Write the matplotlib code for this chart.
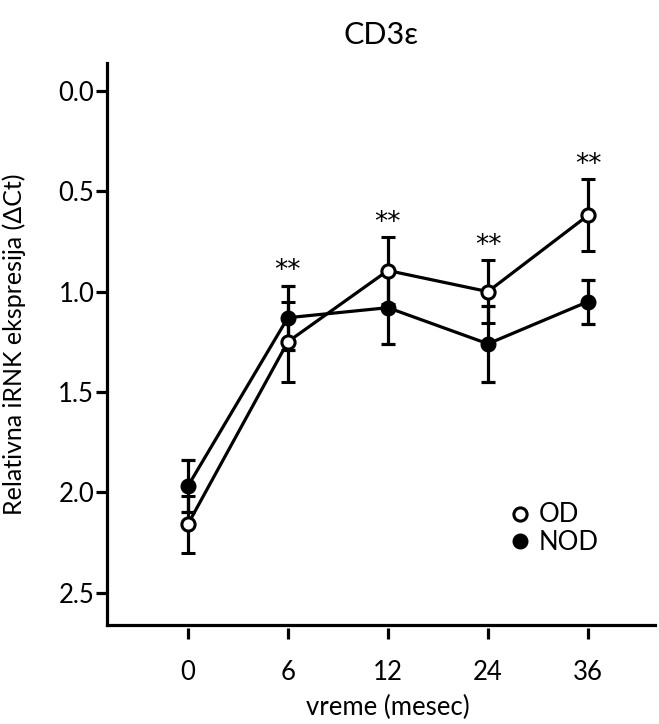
import matplotlib
matplotlib.use("Agg")
import matplotlib.pyplot as plt
from matplotlib.lines import Line2D
import numpy as np

plt.rcParams['font.family'] = ['Lato', 'DejaVu Sans']

categories = ["0", "6", "12", "24", "36"]
od_mean = [2.16, 1.25, 0.895, 1.00, 0.62]
od_err = [0.14, 0.20, 0.165, 0.155, 0.18]
nod_mean = [1.97, 1.13, 1.08, 1.26, 1.05]
nod_err = [0.13, 0.16, 0.18, 0.19, 0.11]
significance = ["", "**", "**", "**", "**"]
yticks = [0.0, 0.5, 1.0, 1.5, 2.0, 2.5]

fig = plt.figure(figsize=(6.59, 7.24), dpi=100)
ax = fig.add_axes([0.162, 0.137, 0.832, 0.776])

x = np.arange(len(categories))
lw = 2.3

ax.errorbar(x, nod_mean, yerr=nod_err, fmt='o-', color='black', mfc='black', mec='black',
            ms=10.5, lw=lw, elinewidth=lw, capsize=5, capthick=lw, zorder=3)
ax.errorbar(x, od_mean, yerr=od_err, fmt='o-', color='black', mfc='white', mec='black',
            mew=2.2, ms=9.5, lw=lw, elinewidth=lw, capsize=5, capthick=lw, zorder=4)

for i, s in enumerate(significance):
    if s:
        top = min(od_mean[i] - od_err[i], nod_mean[i] - nod_err[i])
        ax.annotate(s, xy=(x[i], top), xytext=(0, 1), textcoords='offset points',
                    ha='center', va='bottom', fontsize=19, family='DejaVu Sans')

ax.set_xlim(-0.81, 4.67)
ax.set_ylim(2.66, -0.139)
ax.set_yticks(yticks)
ax.set_yticklabels([f"{v:.1f}" for v in yticks])
ax.set_xticks(x)
ax.set_xticklabels(categories)

for sp in ['top', 'right']:
    ax.spines[sp].set_visible(False)
ax.spines['left'].set_linewidth(lw)
ax.spines['bottom'].set_position(('outward', 2))
ax.spines['bottom'].set_visible(False)
ax.plot([0, 1], [0, 0], transform=ax.transAxes, color='black', lw=lw, clip_on=False,
        solid_capstyle='projecting')

ax.tick_params(axis='y', direction='out', length=8, width=lw, labelsize=18.5, pad=1)
ax.tick_params(axis='x', direction='out', length=8, width=lw, labelsize=18.5, pad=15)

ax.set_ylabel("Relativna iRNK ekspresija (ΔCt)", fontsize=18)
ax.yaxis.set_label_coords(-0.148, 0.5)
ax.set_xlabel("vreme (mesec)", fontsize=18.5)
ax.xaxis.set_label_coords(0.513, -0.124)
ax.set_title("CD3ε", fontsize=22, pad=14)

handles = [Line2D([], [], ls='none', marker='o', ms=9.5, mfc='white', mec='black', mew=2.2),
           Line2D([], [], ls='none', marker='o', ms=10.5, mfc='black', mec='black')]
ax.legend(handles, ["OD", "NOD"], loc='upper left',
          bbox_to_anchor=(0.72, 0.236), frameon=False, handlelength=0.6,
          handletextpad=0.45, fontsize=18.5, labelspacing=0.1, borderaxespad=0)

fig.savefig("out.png", dpi=100)
